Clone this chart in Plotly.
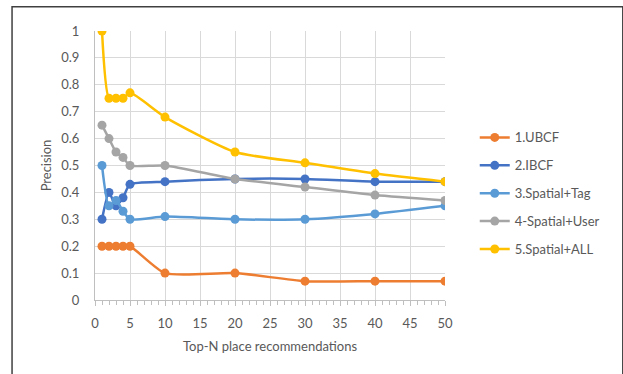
import plotly.graph_objects as go

# Top-N cutoffs and precision for each recommender
top_n = [1, 2, 3, 4, 5, 10, 20, 30, 40, 50]
ubcf = [0.20, 0.20, 0.20, 0.20, 0.20, 0.10, 0.10, 0.07, 0.07, 0.07]
ibcf = [0.30, 0.40, 0.35, 0.38, 0.43, 0.44, 0.45, 0.45, 0.44, 0.44]
spatial_tag = [0.50, 0.35, 0.37, 0.33, 0.30, 0.31, 0.30, 0.30, 0.32, 0.35]
spatial_user = [0.65, 0.60, 0.55, 0.53, 0.50, 0.50, 0.45, 0.42, 0.39, 0.37]
spatial_all = [1.00, 0.75, 0.75, 0.75, 0.77, 0.68, 0.55, 0.51, 0.47, 0.44]

series_names = ["1.UBCF", "2.IBCF", "3.Spatial+Tag", "4-Spatial+User", "5.Spatial+ALL"]
series_values = [ubcf, ibcf, spatial_tag, spatial_user, spatial_all]
series_colors = ["#ED7D31", "#4472C4", "#5B9BD5", "#A5A5A5", "#FFC000"]

x_ticks = list(range(0, 55, 5))
y_ticks = [round(i * 0.1, 1) for i in range(11)]

FONT = "Lato, 'Open Sans', sans-serif"
TEXT_COLOR = "#595959"
GRID = "#D9D9D9"

fig = go.Figure()
for i, (name, vals, color) in enumerate(zip(series_names, series_values, series_colors)):
    fig.add_trace(go.Scatter(
        x=top_n, y=vals, name=name, mode="lines+markers",
        line=dict(color=color, width=2.5, shape="spline", smoothing=0.6),
        marker=dict(color=color, size=9),
        legendgroup=f"g{i}",
    ))

fig.update_layout(
    width=623, height=374,
    margin=dict(l=95, r=178, t=31, b=74),
    paper_bgcolor="white", plot_bgcolor="white",
    font=dict(family=FONT, size=13, color=TEXT_COLOR),
    showlegend=True,
    legend=dict(
        x=1.085, xanchor="left", y=0.66, yanchor="top",
        font=dict(family=FONT, size=13, color=TEXT_COLOR),
        tracegroupgap=8, itemwidth=30,
        bgcolor="rgba(0,0,0,0)",
    ),
    xaxis=dict(
        range=[0, 50], tickvals=x_ticks,
        showgrid=True, gridcolor=GRID, gridwidth=1,
        showline=True, linecolor="#BFBFBF", linewidth=1,
        ticks="outside", ticklen=5, tickcolor="#BFBFBF",
        minor=dict(ticks="outside", dtick=1, ticklen=4, tickcolor="#BFBFBF", showgrid=False),
        zeroline=False, ticklabelstandoff=6,
        title=dict(text="Top-N place recommendations", font=dict(size=13, color=TEXT_COLOR), standoff=12),
    ),
    yaxis=dict(
        range=[0, 1], tickvals=y_ticks, ticktext=[f"{v:g}" for v in y_ticks],
        showgrid=True, gridcolor=GRID, gridwidth=1,
        showline=True, linecolor="#BFBFBF", linewidth=1,
        zeroline=False, ticklabelstandoff=12,
        title=dict(text="Precision", font=dict(size=13, color=TEXT_COLOR), standoff=6),
    ),
    shapes=[dict(
        type="rect", xref="paper", yref="paper",
        x0=-0.237, x1=1.508, y0=-0.5, y1=1.09,
        line=dict(color="#404040", width=1.5), layer="above",
    )],
)

fig.write_html("out.html")
